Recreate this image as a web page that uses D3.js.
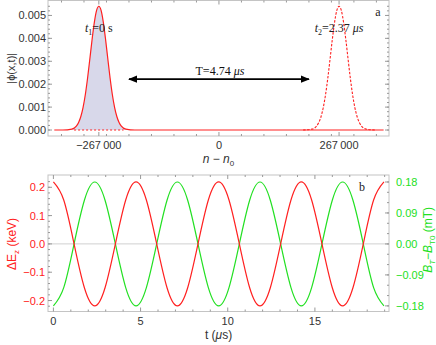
<!DOCTYPE html>
<html><head><meta charset="utf-8">
<script src="https://cdn.jsdelivr.net/npm/d3@7"></script>
<style>
html,body{margin:0;padding:0;background:#fff;}
svg{display:block;}
text{font-family:"Liberation Sans",Arial,sans-serif;}
.serif{font-family:"Liberation Serif","Times New Roman",serif;}
</style></head>
<body>
<script>
// ---- Panel a data ----
const packetCenters = [-267000, 267000];          // t1, t2 packet centres (n - n0)
const packetOffsets = [-80000,-60000,-50000,-45000,-40000,-35000,-30000,-25000,-20000,-15000,-10000,-5000,0,5000,10000,15000,20000,25000,30000,35000,40000,45000,50000,60000,80000];
const packetValues  = [0,0.00004,0.00017,0.00033,0.00059,0.00099,0.00155,0.00227,0.00310,0.00395,0.00470,0.00522,0.00540,0.00522,0.00470,0.00395,0.00310,0.00227,0.00155,0.00099,0.00059,0.00033,0.00017,0.00004,0];
const nRange = [-366000, 366000];
const arrowSpan = [-200000, 200000];
const arrowLevel = 0.00222;
const topXTicks = [-267000, 0, 267000];
const topXTickLabels = ["\u2212267\u2009000", "0", "267\u2009000"];
const topYTicks = [0, 0.001, 0.002, 0.003, 0.004, 0.005];
const topYTickLabels = ["0.000","0.001","0.002","0.003","0.004","0.005"];

// ---- Panel b data ----
const timeUs = [0,0.5925,1.185,1.7775,2.37,2.9625,3.555,4.1475,4.74,5.3325,5.925,6.5175,7.11,7.7025,8.295,8.8875,9.48,10.0725,10.665,11.2575,11.85,12.4425,13.035,13.6275,14.22,14.8125,15.405,15.9975,16.59,17.1825,17.775,18.3675,18.96];
const deltaEz = [0.219,0.155,0,-0.155,-0.219,-0.155,0,0.155,0.219,0.155,0,-0.155,-0.219,-0.155,0,0.155,0.219,0.155,0,-0.155,-0.219,-0.155,0,0.155,0.219,0.155,0,-0.155,-0.219,-0.155,0,0.155,0.219];
const deltaB  = [-0.18,-0.127,0,0.127,0.18,0.127,0,-0.127,-0.18,-0.127,0,0.127,0.18,0.127,0,-0.127,-0.18,-0.127,0,0.127,0.18,0.127,0,-0.127,-0.18,-0.127,0,0.127,0.18,0.127,0,-0.127,-0.18];
const botXTicks = [0,5,10,15];
const botLeftTicks = [-0.2,-0.1,0,0.1,0.2];
const botLeftTickLabels = ["\u22120.2","\u22120.1","0.0","0.1","0.2"];
const botRightTicks = [-0.18,-0.09,0,0.09,0.18];
const botRightTickLabels = ["\u22120.18","\u22120.09","0.00","0.09","0.18"];

const W = 436, H = 345;
const RED = "#ff2020", GREEN = "#22e022", FRAME = "#c4c4c4", TICK = "#999", LAB = "#333";

const svg = d3.select("body").append("svg").attr("width", W).attr("height", H);
svg.append("defs").append("marker").attr("id","ah").attr("viewBox","0 0 10 10")
  .attr("refX",9).attr("refY",5).attr("markerWidth",9).attr("markerHeight",9)
  .attr("markerUnits","userSpaceOnUse").attr("orient","auto-start-reverse")
  .append("path").attr("d","M0,1 L10,5 L0,9 Z").attr("fill","#000");

// ===== Panel a =====
const A = {l:48, r:389, t:0.5, b:136};
const xA = d3.scaleLinear().domain([-380000, 378000]).range([A.l, A.r]);
const yA = d3.scaleLinear().domain([-0.000261, 0.005652]).range([A.b, A.t]);
const gA = svg.append("g");

const leftPts = packetOffsets.map((o,i)=>[packetCenters[0]+o, packetValues[i]]);
const rightPts = packetOffsets.map((o,i)=>[packetCenters[1]+o, packetValues[i]]);
gA.append("path").datum(leftPts)
  .attr("d", d3.area().x(d=>xA(d[0])).y0(yA(0)).y1(d=>yA(d[1])).curve(d3.curveMonotoneX))
  .attr("fill","#d8d8ea");
const solidPts = [[nRange[0],0]].concat(leftPts, [[nRange[1],0]]);
gA.append("path").datum(solidPts)
  .attr("d", d3.line().x(d=>xA(d[0])).y(d=>yA(d[1])).curve(d3.curveMonotoneX))
  .attr("fill","none").attr("stroke",RED).attr("stroke-width",1.2);
gA.append("line").attr("x1",xA(packetCenters[0]-55000)).attr("x2",xA(packetCenters[0]+55000))
  .attr("y1",yA(0)).attr("y2",yA(0)).attr("stroke",RED).attr("stroke-width",1.2).attr("stroke-dasharray","2,2");
gA.append("path").datum(rightPts)
  .attr("d", d3.line().x(d=>xA(d[0])).y(d=>yA(d[1])).curve(d3.curveMonotoneX))
  .attr("fill","none").attr("stroke",RED).attr("stroke-width",1.1).attr("stroke-dasharray","2.5,1.5");

gA.append("rect").attr("x",A.l).attr("y",A.t).attr("width",A.r-A.l).attr("height",A.b-A.t)
  .attr("fill","none").attr("stroke",FRAME).attr("stroke-width",1);
topXTicks.forEach((v,i)=>{
  gA.append("line").attr("x1",xA(v)).attr("x2",xA(v)).attr("y1",A.b).attr("y2",A.b-4).attr("stroke",TICK);
  gA.append("line").attr("x1",xA(v)).attr("x2",xA(v)).attr("y1",A.t).attr("y2",A.t+4).attr("stroke",TICK);
  gA.append("text").attr("x",xA(v)).attr("y",A.b+13).attr("text-anchor","middle")
    .attr("font-size",11).attr("fill",LAB).text(topXTickLabels[i]);
});
d3.range(-350000, 360000, 50000).forEach(v=>{
  if (topXTicks.includes(v)) return;
  gA.append("line").attr("x1",xA(v)).attr("x2",xA(v)).attr("y1",A.b).attr("y2",A.b-2).attr("stroke",TICK);
  gA.append("line").attr("x1",xA(v)).attr("x2",xA(v)).attr("y1",A.t).attr("y2",A.t+2).attr("stroke",TICK);
});
topYTicks.forEach((v,i)=>{
  gA.append("line").attr("x1",A.l).attr("x2",A.l+4).attr("y1",yA(v)).attr("y2",yA(v)).attr("stroke",TICK);
  gA.append("line").attr("x1",A.r).attr("x2",A.r-4).attr("y1",yA(v)).attr("y2",yA(v)).attr("stroke",TICK);
  gA.append("text").attr("x",A.l-2).attr("y",yA(v)+4).attr("text-anchor","end")
    .attr("font-size",11).attr("fill",LAB).text(topYTickLabels[i]);
});
d3.range(0, 0.0056, 0.0002).forEach(v=>{
  gA.append("line").attr("x1",A.l).attr("x2",A.l+2).attr("y1",yA(v)).attr("y2",yA(v)).attr("stroke",TICK);
  gA.append("line").attr("x1",A.r).attr("x2",A.r-2).attr("y1",yA(v)).attr("y2",yA(v)).attr("stroke",TICK);
});
gA.append("text").attr("transform",`translate(15,${(A.t+A.b)/2}) rotate(-90)`).attr("text-anchor","middle")
  .attr("font-size",11).attr("fill",LAB).text("|\u03D5(x,t)|");
const nl = gA.append("text").attr("x",(A.l+A.r)/2).attr("y",163).attr("text-anchor","middle")
  .attr("font-size",12).attr("fill",LAB);
nl.append("tspan").attr("font-style","italic").text("n");
nl.append("tspan").text(" \u2212 ");
nl.append("tspan").attr("font-style","italic").text("n");
nl.append("tspan").attr("font-size",8).attr("dy",3).text("0");
function tLabel(x, sub, rest){
  const t = gA.append("text").attr("class","serif").attr("x",x).attr("y",32).attr("text-anchor","middle")
    .attr("font-size",12).attr("fill","#222");
  t.append("tspan").attr("font-style","italic").text("t");
  t.append("tspan").attr("font-size",8).attr("dy",3).text(sub);
  t.append("tspan").attr("dy",-3).text(rest[0]);
  if (rest[1]) t.append("tspan").attr("font-style","italic").text(rest[1]);
}
tLabel(xA(packetCenters[0]), "1", ["=0 s"]);
tLabel(xA(packetCenters[1]), "2", ["=2.37 ", "\u03BCs"]);
gA.append("text").attr("class","serif").attr("x",378).attr("y",16).attr("text-anchor","middle")
  .attr("font-size",12).attr("fill","#222").text("a");
gA.append("line").attr("x1",xA(arrowSpan[0])).attr("x2",xA(arrowSpan[1])).attr("y1",yA(arrowLevel)).attr("y2",yA(arrowLevel))
  .attr("stroke","#000").attr("stroke-width",1.6)
  .attr("marker-start","url(#ah)").attr("marker-end","url(#ah)");
const tt = gA.append("text").attr("class","serif").attr("x",xA(0)+1).attr("y",yA(arrowLevel)-4).attr("text-anchor","middle")
  .attr("font-size",12).attr("fill","#111");
tt.append("tspan").text("T=4.74 ");
tt.append("tspan").attr("font-style","italic").text("\u03BCs");

// ===== Panel b =====
const B = {l:48, r:389, t:175, b:311.5};
const xB = d3.scaleLinear().domain([-0.31, 19.25]).range([B.l, B.r]);
const yL = d3.scaleLinear().domain([-0.2388, 0.2434]).range([B.b, B.t]);
const yR = d3.scaleLinear().domain([-0.1963, 0.2003]).range([B.b, B.t]);
const gB = svg.append("g");
gB.append("line").attr("x1",B.l).attr("x2",B.r).attr("y1",yL(0)).attr("y2",yL(0)).attr("stroke","#d0d0d0");
gB.append("path").datum(timeUs.map((t,i)=>[t, deltaB[i]]))
  .attr("d", d3.line().x(d=>xB(d[0])).y(d=>yR(d[1])).curve(d3.curveNatural))
  .attr("fill","none").attr("stroke",GREEN).attr("stroke-width",1.2);
gB.append("path").datum(timeUs.map((t,i)=>[t, deltaEz[i]]))
  .attr("d", d3.line().x(d=>xB(d[0])).y(d=>yL(d[1])).curve(d3.curveNatural))
  .attr("fill","none").attr("stroke",RED).attr("stroke-width",1.2);
gB.append("rect").attr("x",B.l).attr("y",B.t).attr("width",B.r-B.l).attr("height",B.b-B.t)
  .attr("fill","none").attr("stroke",FRAME).attr("stroke-width",1);
botXTicks.forEach(v=>{
  gB.append("line").attr("x1",xB(v)).attr("x2",xB(v)).attr("y1",B.b).attr("y2",B.b-4).attr("stroke",TICK);
  gB.append("line").attr("x1",xB(v)).attr("x2",xB(v)).attr("y1",B.t).attr("y2",B.t+4).attr("stroke",TICK);
  gB.append("text").attr("x",xB(v)).attr("y",B.b+13).attr("text-anchor","middle")
    .attr("font-size",11).attr("fill",LAB).text(v);
});
d3.range(0, 20, 1).forEach(v=>{
  if (v%5===0) return;
  gB.append("line").attr("x1",xB(v)).attr("x2",xB(v)).attr("y1",B.b).attr("y2",B.b-2).attr("stroke",TICK);
  gB.append("line").attr("x1",xB(v)).attr("x2",xB(v)).attr("y1",B.t).attr("y2",B.t+2).attr("stroke",TICK);
});
botLeftTicks.forEach((v,i)=>{
  gB.append("line").attr("x1",B.l).attr("x2",B.l+4).attr("y1",yL(v)).attr("y2",yL(v)).attr("stroke",TICK);
  gB.append("text").attr("x",B.l-3).attr("y",yL(v)+4).attr("text-anchor","end")
    .attr("font-size",11).attr("fill",RED).text(botLeftTickLabels[i]);
});
d3.range(-0.22, 0.23, 0.02).forEach(v=>{
  gB.append("line").attr("x1",B.l).attr("x2",B.l+2).attr("y1",yL(v)).attr("y2",yL(v)).attr("stroke",TICK);
});
botRightTicks.forEach((v,i)=>{
  gB.append("line").attr("x1",B.r).attr("x2",B.r-4).attr("y1",yR(v)).attr("y2",yR(v)).attr("stroke",TICK);
  gB.append("text").attr("x",B.r+7).attr("y",yR(v)+4).attr("text-anchor","start")
    .attr("font-size",11).attr("fill",GREEN).text(botRightTickLabels[i]);
});
d3.range(-0.18, 0.19, 0.03).forEach(v=>{
  gB.append("line").attr("x1",B.r).attr("x2",B.r-2).attr("y1",yR(v)).attr("y2",yR(v)).attr("stroke",TICK);
});
const el = gB.append("text").attr("transform",`translate(16,${yL(0)}) rotate(-90)`).attr("text-anchor","middle")
  .attr("font-size",12).attr("fill",RED);
el.append("tspan").text("\u0394E");
el.append("tspan").attr("font-size",8).attr("dy",3).text("z");
el.append("tspan").attr("dy",-3).text(" (keV)");
const bl = gB.append("text").attr("transform",`translate(432,${yL(0)-4}) rotate(-90)`).attr("text-anchor","middle")
  .attr("font-size",12).attr("fill",GREEN);
bl.append("tspan").attr("font-style","italic").text("B");
bl.append("tspan").attr("font-size",8).attr("dy",3).attr("font-style","italic").text("T");
bl.append("tspan").attr("dy",-3).text("\u2212");
bl.append("tspan").attr("font-style","italic").text("B");
bl.append("tspan").attr("font-size",8).attr("dy",3).text("T0");
bl.append("tspan").attr("dy",-3).text(" (mT)");
const tl = gB.append("text").attr("x",(B.l+B.r)/2).attr("y",339).attr("text-anchor","middle")
  .attr("font-size",12).attr("fill",LAB);
tl.append("tspan").text("t (");
tl.append("tspan").attr("font-style","italic").text("\u03BC");
tl.append("tspan").text("s)");
gB.append("text").attr("class","serif").attr("x",362).attr("y",191).attr("text-anchor","middle")
  .attr("font-size",12).attr("fill","#222").text("b");
</script>
</body></html>
